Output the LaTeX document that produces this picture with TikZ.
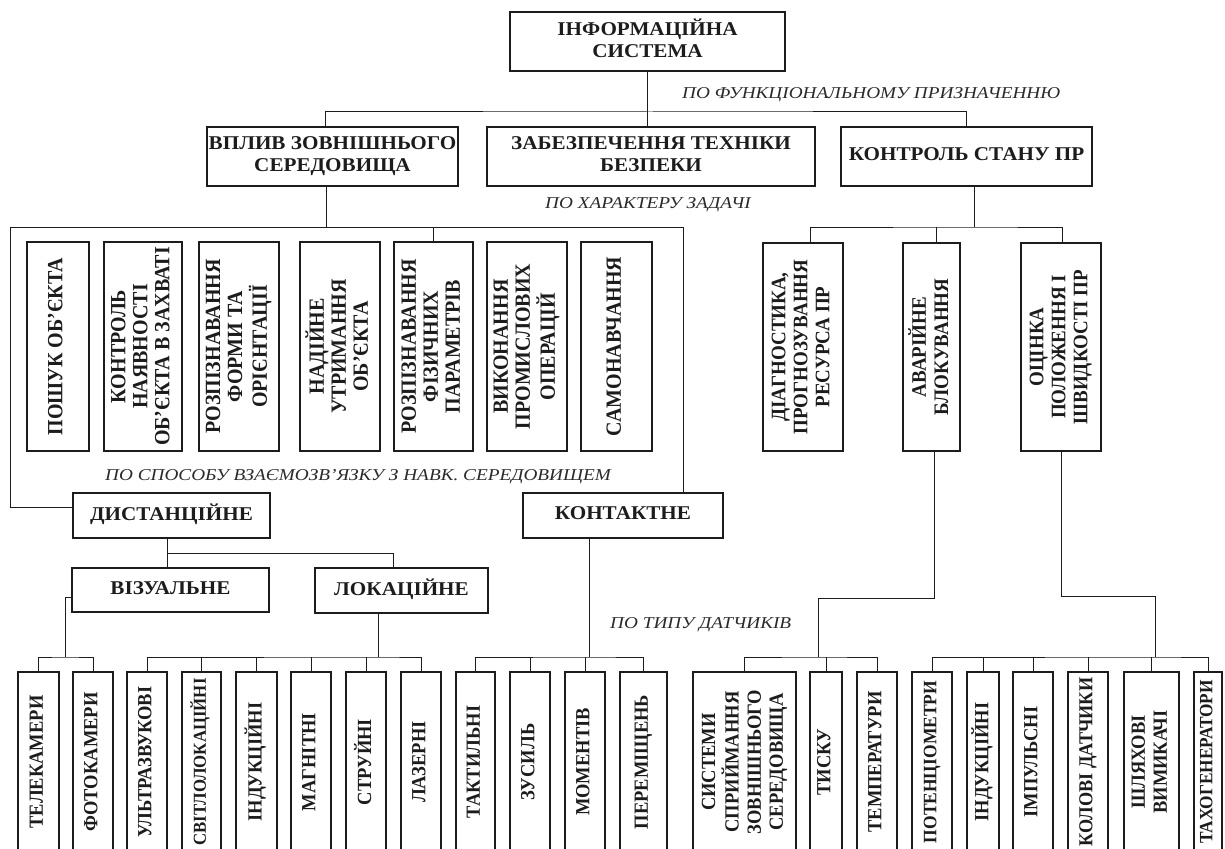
\documentclass[tikz,border=0pt]{standalone}
\usepackage{fontspec}
\setmainfont{Liberation Serif}
\usepackage{graphicx}
\definecolor{ink}{HTML}{1C1C1C}
\definecolor{labelink}{HTML}{2A2A2A}

% horizontal and rotated multi-line box texts (slightly widened serif)
\newcommand\hlines[1]{{\fontsize{19.5}{22}\selectfont\bfseries\scalebox{1.085}[1]{\begin{tabular}{@{}c@{}}#1\end{tabular}}}}
\newcommand\vlines[2][18.5]{{\fontsize{#1}{20.3}\selectfont\bfseries\scalebox{1.085}[1]{\rotatebox{90}{\begin{tabular}{@{}c@{}}#2\end{tabular}}}}}
\newcommand\ltext[1]{\scalebox{1.16}[1]{#1}}
% box given by its left, right, top and bottom edges
\newcommand\boxnode[6]{\node[box, minimum width={(#3)-(#2)}, minimum height={(#5)-(#4)}] (#1) at ({((#2)+(#3))/2},{((#4)+(#5))/2}) {#6};}

\begin{document}
\begin{tikzpicture}[x=1pt,y=-1pt,
  box/.style={draw=ink, line width=1.2pt, inner sep=0pt, text=ink},
  link/.style={draw=ink, line width=1pt},
  lbl/.style={inner sep=0pt, anchor=west, text=labelink, font=\fontsize{16.6}{18}\selectfont\itshape}]
\path[use as bounding box] (0,0) rectangle (1225,848);
\clip (0,0) rectangle (1225,848);

% top level
\boxnode{info}{510}{785}{12}{71}{\hlines{ІНФОРМАЦІЙНА\\СИСТЕМА}}
\boxnode{vplyv}{207}{458}{127}{186}{\hlines{ВПЛИВ ЗОВНІШНЬОГО\\СЕРЕДОВИЩА}}
\boxnode{zab}{487}{815}{127}{186}{\hlines{ЗАБЕЗПЕЧЕННЯ ТЕХНІКИ\\БЕЗПЕКИ}}
\boxnode{kontr}{841}{1092}{127}{186}{\hlines{КОНТРОЛЬ СТАНУ ПР}}

\node[lbl] (lfun) at (682,95) {\ltext{ПО ФУНКЦІОНАЛЬНОМУ ПРИЗНАЧЕННЮ}};
\node[lbl] (lchar) at (545,205) {\ltext{ПО ХАРАКТЕРУ ЗАДАЧІ}};
\node[lbl] (lway) at (105,477) {\ltext{ПО СПОСОБУ ВЗАЄМОЗВ’ЯЗКУ З НАВК. СЕРЕДОВИЩЕМ}};
\node[lbl] (ltype) at (610,625) {\ltext{ПО ТИПУ ДАТЧИКІВ}};

% tasks
\boxnode{t1}{27}{89}{242}{451}{\vlines[20]{ПОШУК ОБ’ЄКТА}}
\boxnode{t2}{104}{182}{242}{451}{\vlines[20]{КОНТРОЛЬ\\НАЯВНОСТІ\\ОБ’ЄКТА В ЗАХВАТІ}}
\boxnode{t3}{199}{279}{242}{451}{\vlines[20]{РОЗПІЗНАВАННЯ\\ФОРМИ ТА\\ОРІЄНТАЦІЇ}}
\boxnode{t4}{300}{380}{242}{451}{\vlines[20]{НАДІЙНЕ\\УТРИМАННЯ\\ОБ’ЄКТА}}
\boxnode{t5}{394}{473}{242}{451}{\vlines[20]{РОЗПІЗНАВАННЯ\\ФІЗИЧНИХ\\ПАРАМЕТРІВ}}
\boxnode{t6}{487}{567}{242}{451}{\vlines[20]{ВИКОНАННЯ\\ПРОМИСЛОВИХ\\ОПЕРАЦІЙ}}
\boxnode{t7}{581}{652}{242}{451}{\vlines[20]{САМОНАВЧАННЯ}}

% state control
\boxnode{diag}{763}{843}{243}{451}{\vlines[19]{ДІАГНОСТИКА,\\ПРОГНОЗУВАННЯ\\РЕСУРСА ПР}}
\boxnode{avar}{903}{960}{243}{451}{\vlines[19]{АВАРІЙНЕ\\БЛОКУВАННЯ}}
\boxnode{ocin}{1021}{1101}{243}{451}{\vlines[19]{ОЦІНКА\\ПОЛОЖЕННЯ І\\ШВИДКОСТІ ПР}}

% interaction kinds
\boxnode{dist}{73}{270}{493}{538}{\hlines{ДИСТАНЦІЙНЕ}}
\boxnode{kont}{523}{723}{493}{538}{\hlines{КОНТАКТНЕ}}
\boxnode{viz}{72}{269}{568}{612}{\hlines{ВІЗУАЛЬНЕ}}
\boxnode{lok}{315}{488}{568}{613}{\hlines{ЛОКАЦІЙНЕ}}

% sensors
\boxnode{tele}{18}{59}{672}{852}{\vlines{ТЕЛЕКАМЕРИ}}
\boxnode{foto}{73}{113}{672}{852}{\vlines{ФОТОКАМЕРИ}}
\boxnode{ultra}{127}{167}{672}{852}{\vlines{УЛЬТРАЗВУКОВІ}}
\boxnode{svit}{182}{221}{672}{852}{\vlines[16.8]{СВІТЛОЛОКАЦІЙНІ}}
\boxnode{induk}{236}{277}{672}{852}{\vlines{ІНДУКЦІЙНІ}}
\boxnode{magn}{291}{331}{672}{852}{\vlines{МАГНІТНІ}}
\boxnode{struy}{346}{386}{672}{852}{\vlines{СТРУЙНІ}}
\boxnode{lazer}{401}{441}{672}{852}{\vlines{ЛАЗЕРНІ}}
\boxnode{takt}{456}{495}{672}{852}{\vlines{ТАКТИЛЬНІ}}
\boxnode{zus}{510}{550}{672}{852}{\vlines{ЗУСИЛЬ}}
\boxnode{mom}{565}{605}{672}{852}{\vlines{МОМЕНТІВ}}
\boxnode{perem}{620}{667}{672}{852}{\vlines{ПЕРЕМІЩЕНЬ}}
\boxnode{sys}{693}{796}{672}{852}{\vlines{СИСТЕМИ\\СПРИЙМАННЯ\\ЗОВНІШНЬОГО\\СЕРЕДОВИЩА}}
\boxnode{tysk}{810}{842}{672}{852}{\vlines{ТИСКУ}}
\boxnode{temp}{857}{897}{672}{852}{\vlines{ТЕМПЕРАТУРИ}}
\boxnode{pot}{912}{952}{672}{852}{\vlines[17.5]{ПОТЕНЦІОМЕТРИ}}
\boxnode{indk}{967}{999}{672}{852}{\vlines{ІНДУКЦІЙНІ}}
\boxnode{imp}{1013}{1053}{672}{852}{\vlines{ІМПУЛЬСНІ}}
\boxnode{kol}{1068}{1108}{672}{852}{\vlines[18.2]{КОЛОВІ ДАТЧИКИ}}
\boxnode{shl}{1124}{1179}{672}{852}{\vlines{ШЛЯХОВІ\\ВИМИКАЧІ}}
\boxnode{tacho}{1194}{1222}{672}{852}{\vlines[17.3]{ТАХОГЕНЕРАТОРИ}}

% bus points
\coordinate (b1) at (650,112);
\coordinate (tb) at (326,227);
\coordinate (tl) at (10,227);
\coordinate (tr) at (683,227);
\coordinate (dl) at (10,507);
\coordinate (rb) at (974,227);
\coordinate (db) at (167,553);
\coordinate (vy) at (0,597);
\coordinate (vb) at (65,657);
\coordinate (lb) at (378,657);
\coordinate (kb) at (589,657);
\coordinate (ay) at (0,598);
\coordinate (ab) at (818,657);
\coordinate (oy) at (0,596);
\coordinate (ob) at (1155,657);

% connectors
\draw[link] (info.south) -- (info.south |- zab.north);
\draw[link] ([xshift=-7pt]vplyv.north) |- (b1) -| (kontr.north);

\draw[link] ([xshift=-6.5pt]vplyv.south) -- (tb);
\draw[link] (tr |- kont.north) -- (tr) -- (tl) -- (dl) -- (dl -| dist.west);
\draw[link] (t5.north) -- (t5.north |- tr);

\draw[link] ([xshift=7.5pt]kontr.south) -- (rb);
\draw[link] ([xshift=7pt]diag.north) |- (rb) -| ([xshift=1pt]ocin.north);
\draw[link] ([xshift=4.5pt]avar.north) -- ([xshift=4.5pt]avar.north |- rb);

\draw[link] ([xshift=-4.5pt]dist.south) -- (db) -| ([xshift=-8.5pt]lok.north);
\draw[link] (db) -- (db |- viz.north);

\draw[link] (viz.west |- vy) -| (vb);
\draw[link] (tele.north) |- (vb) -| (foto.north);

\draw[link] ([xshift=-23.5pt]lok.south) -- (lb);
\draw[link] (ultra.north) |- (lb) -| (lazer.north);
\foreach \n in {svit,induk,magn,struy} \draw[link] (\n.north) -- (\n.north |- lb);

\draw[link] ([xshift=-34pt]kont.south) -- (kb);
\draw[link] (takt.north) |- (kb) -| (perem.north);
\foreach \n in {zus,mom} \draw[link] (\n.north) -- (\n.north |- kb);

\draw[link] ([xshift=2.5pt]avar.south) |- (ab |- ay) -- (ab);
\draw[link] (sys.north) |- (ab) -| (temp.north);
\draw[link] (tysk.north) -- (tysk.north |- ab);

\draw[link] (ocin.south) |- (ob |- oy) -- (ob);
\draw[link] (pot.north) |- (ob) -| (tacho.north);
\foreach \n in {indk,imp,kol,shl} \draw[link] (\n.north) -- (\n.north |- ob);
\end{tikzpicture}
\end{document}
